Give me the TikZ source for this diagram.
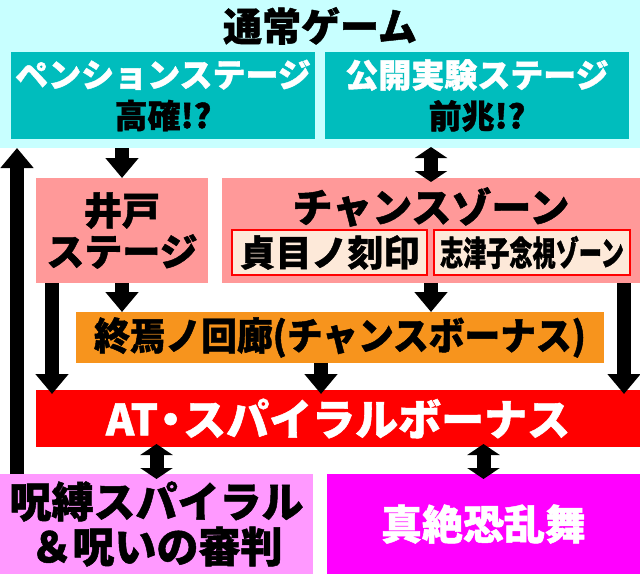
\documentclass[tikz,border=0pt]{standalone}
\usepackage{fontspec}
\setmainfont{Noto Sans CJK JP}[BoldFeatures={FakeBold=1.2}]
\usepackage{tikz}
\usetikzlibrary{arrows.meta, positioning, calc}

\definecolor{normalcyan}{HTML}{C8FFFF}
\definecolor{stageteal}{HTML}{00BDBD}
\definecolor{chancepink}{HTML}{FF9999}
\definecolor{markcream}{HTML}{FDE9D9}
\definecolor{bonusorange}{HTML}{F7941D}
\definecolor{spiralviolet}{HTML}{FF99FF}
\definecolor{dancemagenta}{HTML}{FF00FF}

\begin{document}
\begin{tikzpicture}[x=1pt, y=-1pt, node distance=10pt, outer sep=0pt]

\tikzstyle{box}=[rectangle, anchor=north west, inner sep=0pt, align=center, font=\bfseries]
\tikzstyle{stagebox}=[box, fill=stageteal, minimum width=304pt, minimum height=87pt, font=\bfseries\fontsize{33}{41}\selectfont]
\tikzstyle{pinkbox}=[box, fill=chancepink, minimum height=105pt]
\tikzstyle{markbox}=[box, fill=markcream, draw=red, line width=1.5pt, minimum width=195pt, minimum height=45pt]
\tikzstyle{flow}=[line width=14pt, >={Triangle[width=32pt,length=20pt]}]
\tikzstyle{both}=[line width=14pt, >={Triangle[width=32pt,length=11pt]}, <->]

\useasboundingbox (0,0) rectangle (640,574);

% normal game
\node[box, fill=normalcyan, minimum width=640pt, minimum height=148pt] (normal) at (0,0) {};
\node[font=\bfseries\fontsize{39}{39}\selectfont] (normaltitle) at (320,26) {通常ゲーム};
\node[stagebox] (pension) at (11,52) {{\color{white}ペンションステージ}\\高確!?};
\node[stagebox] (public) [right = of pension] {{\color{white}公開実験ステージ}\\前兆!?};

% chance zone
\node[pinkbox, minimum width=172pt, font=\bfseries\fontsize{38}{41}\selectfont] (ido) at (36,178) {井戸\\ステージ};
\node[pinkbox, minimum width=418pt] (chance) [right = 14pt of ido] {};
\node[font=\bfseries\fontsize{40}{40}\selectfont] (chancetitle) at (431,207) {チャンスゾーン};
\node[markbox, font=\bfseries\fontsize{36}{36}\selectfont] (kokuin) at (232,230) {貞目ノ刻印};
\node[markbox, minimum width=196pt, font=\bfseries\fontsize{34}{34}\selectfont] (shizuko) [right = 7pt of kokuin] {\scalebox{0.68}[1]{志津子念視ゾーン}};

% bonus
\node[box, fill=bonusorange, minimum width=528pt, minimum height=51pt, font=\bfseries\fontsize{38}{38}\selectfont] (kairou) at (76,312) {\scalebox{0.94}[1]{終焉ノ回廊(チャンスボーナス)}};
\node[box, fill=red, text=white, minimum width=604pt, minimum height=57pt, font=\bfseries\fontsize{43}{43}\selectfont] (at) at (36,390) {AT\hspace{-9pt}・\hspace{-9pt}スパイラルボーナス};
\node[box, fill=spiralviolet, minimum width=313pt, minimum height=100pt, font=\bfseries\fontsize{42}{45}\selectfont] (jubaku) at (0,474) {呪縛スパイラル\\＆呪いの審判};
\node[box, fill=dancemagenta, text=white, minimum width=313pt, minimum height=100pt, font=\bfseries\fontsize{41}{41}\selectfont] (shinzetsu) [right = 14pt of jubaku] {真絶恐乱舞};

% arrows
\draw[flow,->] ([xshift=17pt]jubaku.north west) -- ([xshift=17pt]jubaku.north west |- normal.south);
\draw[flow,->] (ido.north |- normal.south) -- (ido.north);
\draw[both, shorten <=-1pt, shorten >=-4pt] (chance.north |- normal.south) -- (chance.north);
\draw[flow,->] (ido.south) -- (ido.south |- kairou.north);
\draw[flow,->] (chance.south) -- (chance.south |- kairou.north);
\draw[flow,->, shorten >=-4pt] ([xshift=16pt]ido.south west) -- ([xshift=16pt]ido.south west |- at.north);
\draw[flow,->, shorten >=-4pt] ([xshift=-16pt]chance.south east) -- ([xshift=-16pt]chance.south east |- at.north);
\draw[flow,->, shorten >=-4pt] ([xshift=-17pt]at.north |- kairou.south) -- ([xshift=-17pt]at.north);
\draw[both, shorten <=-3pt, shorten >=-5pt] (jubaku.north |- at.south) -- (jubaku.north);
\draw[both, shorten <=-3pt, shorten >=-5pt] (shinzetsu.north |- at.south) -- (shinzetsu.north);
\end{tikzpicture}
\end{document}
